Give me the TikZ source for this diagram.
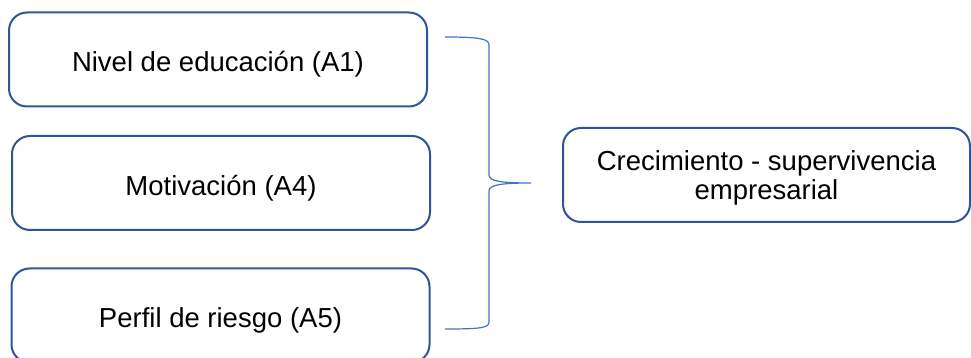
\documentclass[tikz,border=0pt]{standalone}
\usepackage{fontspec}
\setmainfont{Liberation Sans}
\usetikzlibrary{calc,arrows.meta,positioning}
\definecolor{boxblue}{HTML}{2F5597}
\definecolor{braceblue}{HTML}{4472C4}
\tikzset {>=Stealth}
\tikzset {factor/.style={draw=boxblue,line width=1pt,rounded corners=9pt,
    minimum width=209pt,minimum height=47pt,align=center,
    text height=12.5pt,text depth=0pt,
    font=\fontsize{13.75}{14}\selectfont}}

\begin{document}
\begin{tikzpicture}[x=0.5pt,y=-0.5pt]
\useasboundingbox (0,0) rectangle (971,358);
\foreach \n/\x/\y/\t in {1/218/59.5/{Nivel de educación (A1)},
    2/221/183/{Motivación (A4)},3/220.5/315.5/{Perfil de riesgo (A5)}}
  \node[factor] (a\n) at (\x,\y) {\t};
\node[factor,minimum width=203.5pt,text height=25pt,
  font=\fontsize{13.75}{14.5}\selectfont]
  (res) at (766.5,175) {Crecimiento - supervivencia\\empresarial};
% llave
\coordinate (bt) at (445,37);
\coordinate (bb) at (445,329);
\coordinate (tip) at ($(res.west)+(-31,8)$);
\draw[braceblue,line width=0.6pt] (bt) .. controls +(35,0) and (489,39) .. (489,45)
  -- (489,175) .. controls (489,181) and (500,183) .. (tip)
  .. controls (500,183) and (489,185) .. (489,191)
  -- (489,322) .. controls (489,328) and +(35,0) .. (bb);
\end{tikzpicture}
\end{document}
